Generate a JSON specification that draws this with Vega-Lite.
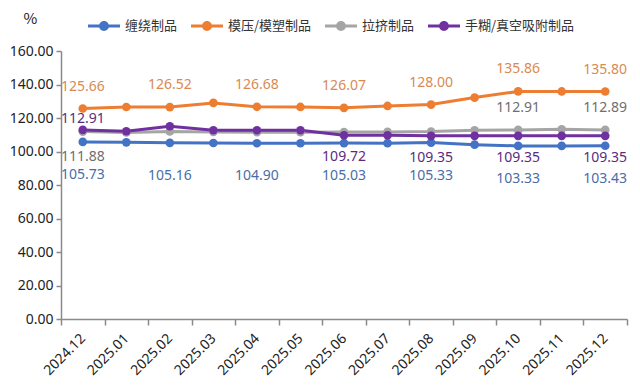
{
  "$schema": "https://vega.github.io/schema/vega-lite/v6.json",
  "width": 566,
  "height": 268,
  "autosize": {"type": "none"},
  "padding": {"left": 61, "top": 51, "right": 13, "bottom": 68},
  "background": "white",
  "config": {"view": {"stroke": null}, "font": "Noto Sans CJK SC"},
  "datasets": {
    "main": [
      {"month": "2024.12", "series": "缠绕制品", "value": 105.73},
      {"month": "2025.01", "series": "缠绕制品", "value": 105.45},
      {"month": "2025.02", "series": "缠绕制品", "value": 105.16},
      {"month": "2025.03", "series": "缠绕制品", "value": 105.05},
      {"month": "2025.04", "series": "缠绕制品", "value": 104.90},
      {"month": "2025.05", "series": "缠绕制品", "value": 104.92},
      {"month": "2025.06", "series": "缠绕制品", "value": 105.03},
      {"month": "2025.07", "series": "缠绕制品", "value": 105.00},
      {"month": "2025.08", "series": "缠绕制品", "value": 105.33},
      {"month": "2025.09", "series": "缠绕制品", "value": 104.10},
      {"month": "2025.10", "series": "缠绕制品", "value": 103.33},
      {"month": "2025.11", "series": "缠绕制品", "value": 103.35},
      {"month": "2025.12", "series": "缠绕制品", "value": 103.43},
      {"month": "2024.12", "series": "模压/模塑制品", "value": 125.66},
      {"month": "2025.01", "series": "模压/模塑制品", "value": 126.55},
      {"month": "2025.02", "series": "模压/模塑制品", "value": 126.52},
      {"month": "2025.03", "series": "模压/模塑制品", "value": 129.00},
      {"month": "2025.04", "series": "模压/模塑制品", "value": 126.68},
      {"month": "2025.05", "series": "模压/模塑制品", "value": 126.60},
      {"month": "2025.06", "series": "模压/模塑制品", "value": 126.07},
      {"month": "2025.07", "series": "模压/模塑制品", "value": 127.20},
      {"month": "2025.08", "series": "模压/模塑制品", "value": 128.00},
      {"month": "2025.09", "series": "模压/模塑制品", "value": 132.20},
      {"month": "2025.10", "series": "模压/模塑制品", "value": 135.86},
      {"month": "2025.11", "series": "模压/模塑制品", "value": 135.85},
      {"month": "2025.12", "series": "模压/模塑制品", "value": 135.80},
      {"month": "2024.12", "series": "拉挤制品", "value": 111.88},
      {"month": "2025.01", "series": "拉挤制品", "value": 111.40},
      {"month": "2025.02", "series": "拉挤制品", "value": 112.00},
      {"month": "2025.03", "series": "拉挤制品", "value": 111.70},
      {"month": "2025.04", "series": "拉挤制品", "value": 111.50},
      {"month": "2025.05", "series": "拉挤制品", "value": 111.50},
      {"month": "2025.06", "series": "拉挤制品", "value": 111.60},
      {"month": "2025.07", "series": "拉挤制品", "value": 111.70},
      {"month": "2025.08", "series": "拉挤制品", "value": 111.90},
      {"month": "2025.09", "series": "拉挤制品", "value": 112.70},
      {"month": "2025.10", "series": "拉挤制品", "value": 112.91},
      {"month": "2025.11", "series": "拉挤制品", "value": 113.30},
      {"month": "2025.12", "series": "拉挤制品", "value": 112.89},
      {"month": "2024.12", "series": "手糊/真空吸附制品", "value": 112.91},
      {"month": "2025.01", "series": "手糊/真空吸附制品", "value": 112.10},
      {"month": "2025.02", "series": "手糊/真空吸附制品", "value": 115.10},
      {"month": "2025.03", "series": "手糊/真空吸附制品", "value": 112.70},
      {"month": "2025.04", "series": "手糊/真空吸附制品", "value": 112.70},
      {"month": "2025.05", "series": "手糊/真空吸附制品", "value": 112.70},
      {"month": "2025.06", "series": "手糊/真空吸附制品", "value": 109.72},
      {"month": "2025.07", "series": "手糊/真空吸附制品", "value": 109.70},
      {"month": "2025.08", "series": "手糊/真空吸附制品", "value": 109.35},
      {"month": "2025.09", "series": "手糊/真空吸附制品", "value": 109.35},
      {"month": "2025.10", "series": "手糊/真空吸附制品", "value": 109.35},
      {"month": "2025.11", "series": "手糊/真空吸附制品", "value": 109.35},
      {"month": "2025.12", "series": "手糊/真空吸附制品", "value": 109.35}
    ]
  },
  "data": {"name": "main"},
  "encoding": {
    "x": {
      "field": "month",
      "type": "ordinal",
      "sort": null,
      "bandPosition": 0.5,
      "scale": {"type": "band", "paddingInner": 0, "paddingOuter": 0},
      "axis": {
        "title": null,
        "tickBand": "extent",
        "labelAngle": -45,
        "labelAlign": "right",
        "labelBaseline": "middle",
        "labelFontSize": 14,
        "labelColor": "#222222",
        "labelPadding": 11,
        "labelFont": "Noto Sans",
        "domainColor": "#8a8a8a",
        "domainWidth": 1.5,
        "tickColor": "#8a8a8a",
        "tickWidth": 1.5,
        "tickSize": 6,
        "grid": false
      }
    },
    "y": {
      "field": "value",
      "type": "quantitative",
      "scale": {"domain": [0, 160], "nice": false},
      "axis": {
        "values": [0, 20, 40, 60, 80, 100, 120, 140, 160],
        "format": ".2f",
        "grid": false,
        "labelFontSize": 14,
        "labelColor": "#222222",
        "labelFont": "Noto Sans",
        "labelPadding": 3,
        "domainColor": "#8a8a8a",
        "domainWidth": 1.5,
        "tickColor": "#8a8a8a",
        "tickWidth": 1.5,
        "tickSize": 5,
        "title": "%",
        "titleAngle": 0,
        "titleAlign": "left",
        "titleBaseline": "middle",
        "titleX": -38,
        "titleY": -33,
        "titleFontSize": 15,
        "titleFontWeight": "normal",
        "titleColor": "#222222"
      }
    }
  },
  "layer": [
    {
      "mark": {"type": "line", "strokeWidth": 3, "point": {"filled": true, "size": 75, "opacity": 1}},
      "encoding": {
        "color": {
          "field": "series",
          "type": "nominal",
          "scale": {
            "domain": ["缠绕制品", "模压/模塑制品", "拉挤制品", "手糊/真空吸附制品"],
            "range": ["#4472C4", "#ED7D31", "#A5A5A5", "#7030A0"]
          },
          "legend": {
            "orient": "none",
            "legendX": 27,
            "legendY": -41,
            "direction": "horizontal",
            "title": null,
            "symbolType": "M-1,-0.095H-0.25V0.095H-1Z M0.25,-0.095H1V0.095H0.25Z M-0.31,0A0.31,0.31 0 1,1 0.31,0A0.31,0.31 0 1,1 -0.31,0Z",
            "symbolSize": 1024,
            "symbolStrokeWidth": 0,
            "labelFontSize": 13,
            "labelOffset": 5,
            "columnPadding": 13,
            "labelColor": "#333333",
            "encode": {"symbols": {"update": {"fill": {"scale": "color", "field": "value"}, "opacity": {"value": 1}, "strokeWidth": {"value": 0}}}}
          }
        }
      }
    },
    {
      "transform": [{"filter": {"and": [{"field": "series", "equal": "模压/模塑制品"}, {"field": "month", "oneOf": ["2024.12", "2025.02", "2025.04", "2025.06", "2025.08", "2025.10", "2025.12"]}]}}],
      "mark": {"type": "text", "dy": -22, "fontSize": 14, "font": "Noto Sans", "color": "#D98A52"},
      "encoding": {"text": {"field": "value", "type": "quantitative", "format": ".2f"}}
    },
    {
      "transform": [{"filter": {"and": [{"field": "series", "equal": "拉挤制品"}, {"field": "month", "oneOf": ["2025.10", "2025.12"]}]}}],
      "mark": {"type": "text", "dy": -22, "fontSize": 14, "font": "Noto Sans", "color": "#6F6F6F"},
      "encoding": {"text": {"field": "value", "type": "quantitative", "format": ".2f"}}
    },
    {
      "transform": [{"filter": {"and": [{"field": "series", "equal": "拉挤制品"}, {"field": "month", "equal": "2024.12"}]}}],
      "mark": {"type": "text", "dy": 25, "fontSize": 14, "font": "Noto Sans", "color": "#6F6F6F"},
      "encoding": {"text": {"field": "value", "type": "quantitative", "format": ".2f"}}
    },
    {
      "transform": [{"filter": {"and": [{"field": "series", "equal": "手糊/真空吸附制品"}, {"field": "month", "oneOf": ["2025.06", "2025.08", "2025.10", "2025.12"]}]}}],
      "mark": {"type": "text", "dy": 22, "fontSize": 14, "font": "Noto Sans", "color": "#5B2C7E"},
      "encoding": {"text": {"field": "value", "type": "quantitative", "format": ".2f"}}
    },
    {
      "transform": [{"filter": {"and": [{"field": "series", "equal": "手糊/真空吸附制品"}, {"field": "month", "equal": "2024.12"}]}}],
      "mark": {"type": "text", "dy": -11, "fontSize": 14, "font": "Noto Sans", "color": "#5B2C7E"},
      "encoding": {"text": {"field": "value", "type": "quantitative", "format": ".2f"}}
    },
    {
      "transform": [{"filter": {"and": [{"field": "series", "equal": "缠绕制品"}, {"field": "month", "oneOf": ["2024.12", "2025.02", "2025.04", "2025.06", "2025.08", "2025.10", "2025.12"]}]}}],
      "mark": {"type": "text", "dy": 33, "fontSize": 14, "font": "Noto Sans", "color": "#4A6DA8"},
      "encoding": {"text": {"field": "value", "type": "quantitative", "format": ".2f"}}
    }
  ]
}
